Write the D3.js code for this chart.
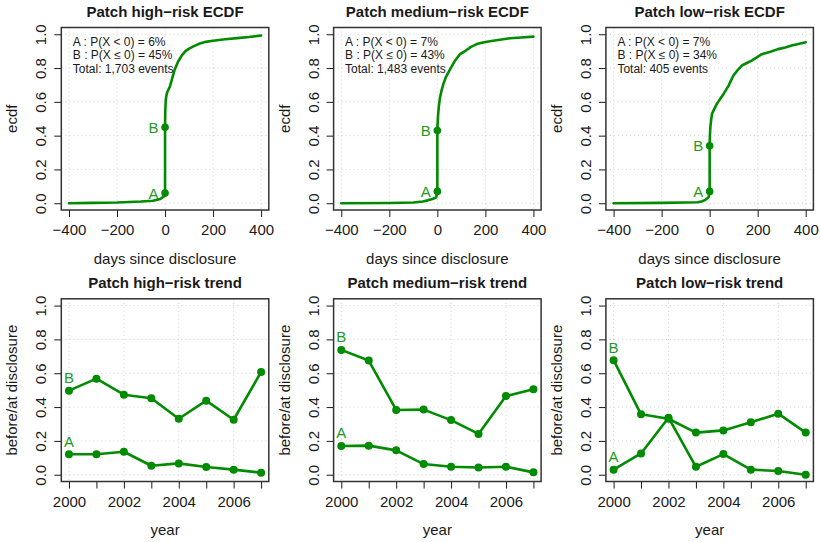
<!DOCTYPE html>
<html>
<head>
<meta charset="utf-8">
<script src="https://cdn.jsdelivr.net/npm/d3@7"></script>
<style>
  html, body { margin: 0; padding: 0; background: #fff; }
  svg { display: block; font-family: "Liberation Sans", Arial, Helvetica, sans-serif; }
</style>
</head>
<body>
<svg id="chart" width="820" height="542"></svg>
<script>
// ---- ECDF of patch time relative to disclosure (days), per risk class ----
const riskNames = ["high", "medium", "low"];

const highDays = [-400, -300, -200, -100, -50, -20, -5, 0, 0, 1, 3, 6, 10, 20, 30, 40, 55, 70, 85, 100, 120, 145, 170, 200, 250, 300, 350, 400];
const highEcdf = [0, 0.002, 0.004, 0.01, 0.015, 0.025, 0.04, 0.06, 0.45, 0.55, 0.61, 0.64, 0.66, 0.69, 0.74, 0.79, 0.84, 0.875, 0.9, 0.915, 0.93, 0.945, 0.955, 0.962, 0.97, 0.977, 0.984, 0.993];

const mediumDays = [-400, -200, -100, -60, -40, -20, -5, 0, 0, 1, 3, 6, 11, 18, 25, 35, 46, 60, 74, 94, 110, 122, 140, 164, 190, 219, 260, 302, 350, 400];
const mediumEcdf = [0, 0.001, 0.004, 0.01, 0.017, 0.025, 0.035, 0.07, 0.43, 0.47, 0.52, 0.57, 0.625, 0.67, 0.705, 0.745, 0.775, 0.81, 0.845, 0.882, 0.895, 0.907, 0.925, 0.942, 0.951, 0.959, 0.968, 0.976, 0.981, 0.986];

const lowDays = [-400, -200, -100, -50, -30, -18, -4, 0, 0, 1, 3, 6, 10, 20, 30, 45, 58, 70, 79, 90, 99, 115, 134, 155, 175, 195, 217, 250, 285, 315, 341, 370, 400];
const lowEcdf = [0, 0.002, 0.004, 0.006, 0.012, 0.02, 0.036, 0.07, 0.34, 0.40, 0.45, 0.49, 0.53, 0.56, 0.588, 0.62, 0.647, 0.675, 0.696, 0.73, 0.756, 0.785, 0.815, 0.83, 0.844, 0.862, 0.882, 0.895, 0.912, 0.922, 0.933, 0.943, 0.953];

// A = P(X < 0), B = P(X <= 0), event totals
const shareBefore = [0.06, 0.07, 0.07];
const shareAtOrBefore = [0.45, 0.43, 0.34];
const eventTotals = ["1,703", "1,483", "405"];

// ---- yearly share of patches before (A) / before-or-at (B) disclosure ----
const years = [2000, 2001, 2002, 2003, 2004, 2005, 2006, 2007];
const highA = [0.121, 0.121, 0.136, 0.053, 0.067, 0.046, 0.030, 0.012];
const highB = [0.497, 0.568, 0.473, 0.452, 0.331, 0.438, 0.325, 0.608];
const mediumA = [0.170, 0.172, 0.144, 0.063, 0.047, 0.043, 0.047, 0.014];
const mediumB = [0.738, 0.675, 0.383, 0.385, 0.323, 0.241, 0.465, 0.505];
const lowA = [0.030, 0.126, 0.337, 0.047, 0.122, 0.030, 0.022, 0.000];
const lowB = [0.677, 0.357, 0.331, 0.249, 0.262, 0.310, 0.361, 0.249];

const dayTicks = [-400, -200, 0, 200, 400];
const probTicks = [0, 0.2, 0.4, 0.6, 0.8, 1.0];

const ecdfDays = [highDays, mediumDays, lowDays];
const ecdfVals = [highEcdf, mediumEcdf, lowEcdf];
const trendA = [highA, mediumA, lowA];
const trendB = [highB, mediumB, lowB];

// ---- layout / style ----
const lefts = [61.3, 333.6, 605.9];
const boxW = 207.5;
const rows = [{ top: 27.5, bottom: 210 }, { top: 298.8, bottom: 481.5 }];
const green = "#008B00";
const labelGreen = "#1f9a1f";
const ink = "#1a1a1a";
const gridCol = "#cfcfcf";
const fontMain = 15;

const svg = d3.select("#chart");
svg.append("rect").attr("width", 820).attr("height", 542).attr("fill", "#fff");

function styleAxis(g) {
  g.select(".domain").remove();
  g.selectAll(".tick line").attr("stroke", ink).attr("stroke-width", 1);
  g.selectAll("text").attr("fill", ink).attr("font-size", fontMain)
    .attr("font-family", "Liberation Sans, Arial, sans-serif");
}

function frame(L, row, x, y, xAxis, gridX, title, xlab, ylab) {
  const g = svg.append("g");
  // dotted grid
  g.selectAll("line.gx").data(gridX).join("line")
    .attr("x1", d => x(d)).attr("x2", d => x(d))
    .attr("y1", row.top).attr("y2", row.bottom)
    .attr("stroke", gridCol).attr("stroke-dasharray", "1,3").attr("stroke-width", 1);
  g.selectAll("line.gy").data(probTicks).join("line")
    .attr("x1", L).attr("x2", L + boxW)
    .attr("y1", d => y(d)).attr("y2", d => y(d))
    .attr("stroke", gridCol).attr("stroke-dasharray", "1,3").attr("stroke-width", 1);

  // x axis
  g.append("g").attr("transform", `translate(0,${row.bottom})`).call(xAxis).call(styleAxis)
    .call(a => a.selectAll("text").attr("y", 25).attr("dy", null));

  // y axis with labels parallel to the axis
  g.append("g").attr("transform", `translate(${L},0)`)
    .call(d3.axisLeft(y).tickValues(probTicks).tickSize(7).tickFormat(d3.format(".1f")))
    .call(styleAxis)
    .call(a => a.selectAll("text")
      .attr("x", null).attr("dy", null).attr("y", null)
      .attr("text-anchor", "middle")
      .attr("transform", "translate(-15,0) rotate(-90)"));

  // box
  g.append("rect").attr("x", L).attr("y", row.top)
    .attr("width", boxW).attr("height", row.bottom - row.top)
    .attr("fill", "none").attr("stroke", "#333").attr("stroke-width", 1.5);

  const cx = L + boxW / 2;
  g.append("text").attr("x", cx).attr("y", row.top - 10.5)
    .attr("text-anchor", "middle").attr("font-weight", "bold")
    .attr("font-size", fontMain).attr("fill", ink).text(title);
  g.append("text").attr("x", cx).attr("y", row.bottom + 53.5)
    .attr("text-anchor", "middle").attr("font-size", fontMain).attr("fill", ink).text(xlab);
  g.append("text")
    .attr("transform", `translate(${L - 44},${(row.top + row.bottom) / 2}) rotate(-90)`)
    .attr("text-anchor", "middle").attr("font-size", fontMain).attr("fill", ink).text(ylab);
  return g;
}

riskNames.forEach((name, i) => {
  const L = lefts[i];

  // ---------- ECDF panel ----------
  let row = rows[0];
  let x = d3.scaleLinear().domain([-432, 432]).range([L, L + boxW]);
  let y = d3.scaleLinear().domain([-0.04, 1.04]).range([row.bottom, row.top]);
  let xAxis = d3.axisBottom(x).tickValues(dayTicks).tickSize(7)
    .tickFormat(d => d < 0 ? "\u2212" + Math.abs(d) : String(d));
  let g = frame(L, row, x, y, xAxis, dayTicks,
    `Patch ${name}\u2212risk ECDF`, "days since disclosure", "ecdf");

  const pts = ecdfDays[i].map((d, k) => [d, ecdfVals[i][k]]);
  g.append("path").datum(pts)
    .attr("d", d3.line().x(d => x(d[0])).y(d => y(d[1])))
    .attr("fill", "none").attr("stroke", green).attr("stroke-width", 2.6)
    .attr("stroke-linejoin", "round").attr("stroke-linecap", "round");

  const marks = [["A", shareBefore[i]], ["B", shareAtOrBefore[i]]];
  g.selectAll("circle.m").data(marks).join("circle")
    .attr("cx", x(0)).attr("cy", d => y(d[1])).attr("r", 3.8).attr("fill", green);
  g.selectAll("text.m").data(marks).join("text")
    .attr("x", x(0) - 6.5).attr("y", d => y(d[1]) + 5.5)
    .attr("text-anchor", "end").attr("font-size", fontMain).attr("fill", labelGreen)
    .text(d => d[0]);

  const pct = v => Math.round(v * 100) + "%";
  const notes = [
    `A : P(X < 0) = ${pct(shareBefore[i])}`,
    `B : P(X \u2264 0) = ${pct(shareAtOrBefore[i])}`,
    `Total: ${eventTotals[i]} events`
  ];
  g.selectAll("text.note").data(notes).join("text")
    .attr("x", L + 11.5).attr("y", (d, k) => [45.5, 59, 73][k])
    .attr("font-size", 12).attr("fill", ink).text(d => d);

  // ---------- trend panel ----------
  row = rows[1];
  x = d3.scaleLinear().domain([2000 - 0.28, 2007 + 0.28]).range([L, L + boxW]);
  y = d3.scaleLinear().domain([-0.04, 1.04]).range([row.bottom, row.top]);
  xAxis = d3.axisBottom(x).tickValues(years).tickSize(7)
    .tickFormat(d => d % 2 === 0 ? String(d) : "");
  g = frame(L, row, x, y, xAxis, years.filter(d => d % 2 === 0),
    `Patch ${name}\u2212risk trend`, "year", "before/at disclosure");

  const series = [["A", trendA[i]], ["B", trendB[i]]];
  series.forEach(([lab, vals]) => {
    const data = years.map((yr, k) => [yr, vals[k]]);
    g.append("path").datum(data)
      .attr("d", d3.line().x(d => x(d[0])).y(d => y(d[1])))
      .attr("fill", "none").attr("stroke", green).attr("stroke-width", 2.6)
      .attr("stroke-linejoin", "round");
    g.selectAll(null).data(data).join("circle")
      .attr("cx", d => x(d[0])).attr("cy", d => y(d[1])).attr("r", 4).attr("fill", green);
    g.append("text").attr("x", x(years[0])).attr("y", y(vals[0]) - 7.5)
      .attr("text-anchor", "middle").attr("font-size", fontMain).attr("fill", labelGreen)
      .text(lab);
  });
});
</script>
</body>
</html>
